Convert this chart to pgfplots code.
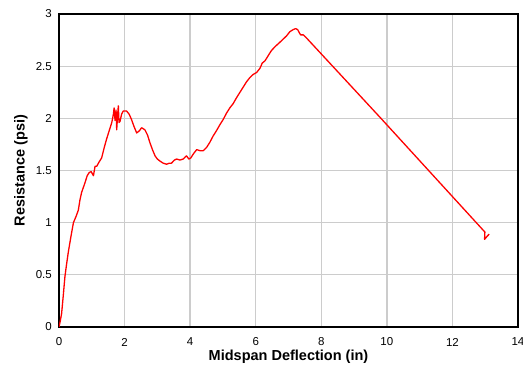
\documentclass[border=0pt]{standalone}
\usepackage{pgfplots}
\pgfplotsset{compat=1.18}
\usepackage{fontspec}
\setmainfont{Liberation Sans}
\definecolor{gridgray}{RGB}{204,204,204}
\begin{document}
\begin{tikzpicture}[x=1pt,y=1pt]
\path[use as bounding box] (-59,-39) rectangle (464,327);
\begin{axis}[
  at={(0,0)}, anchor=south west,
  scale only axis,
  width=459pt, height=313pt,
  xmin=0, xmax=14, ymin=0, ymax=3,
  xtick={0,2,...,14},
  ytick={0,0.5,...,3},
  grid=major,
  major grid style={gridgray, line width=1.3pt},
  major tick length=0pt,
  axis line style={black, line width=1.4pt},
  tick label style={font=\fontsize{11.5}{13}\selectfont},
  /pgf/number format/assume math mode=true,
  yticklabel style={/pgf/number format/fixed, anchor=east, inner sep=0pt, xshift=-7pt},
  xticklabel style={anchor=center, inner sep=0pt, yshift=-15pt},
  xlabel={\bfseries Midspan Deflection (in)},
  ylabel={\bfseries Resistance (psi)},
  label style={font=\fontsize{14.5}{17}\selectfont},
  xlabel style={at={(axis description cs:0.5,-0.0958)}, anchor=center},
  ylabel style={at={(axis description cs:-0.0828,0.5)}, anchor=center},
]
\addplot[red, line width=1.3pt, line join=round] coordinates {
(0,0) (0.04,0.06) (0.08,0.13) (0.13,0.30) (0.18,0.48) (0.23,0.60) (0.28,0.71)
(0.36,0.86) (0.44,1.00) (0.52,1.06) (0.59,1.12) (0.64,1.22) (0.69,1.29)
(0.79,1.38) (0.86,1.45) (0.92,1.48) (0.98,1.49) (1.05,1.45) (1.10,1.54)
(1.15,1.54) (1.22,1.58) (1.30,1.62) (1.38,1.72) (1.45,1.80) (1.53,1.88)
(1.61,1.96) (1.66,2.04) (1.68,2.10) (1.71,1.98) (1.74,2.08) (1.76,1.89)
(1.79,2.04) (1.81,2.12) (1.83,1.96) (1.86,1.97) (1.91,2.04) (1.96,2.07)
(2.06,2.07) (2.14,2.04) (2.21,1.99) (2.29,1.92) (2.37,1.86) (2.45,1.88)
(2.52,1.91) (2.62,1.89) (2.70,1.84) (2.77,1.77) (2.85,1.70) (2.93,1.64)
(3.00,1.61) (3.08,1.59) (3.18,1.57) (3.28,1.56) (3.36,1.57) (3.43,1.57)
(3.52,1.60) (3.59,1.61) (3.69,1.60) (3.79,1.61) (3.85,1.63) (3.89,1.64)
(3.96,1.61) (4.02,1.62) (4.10,1.66) (4.20,1.70) (4.30,1.69) (4.40,1.69)
(4.50,1.72) (4.60,1.77) (4.70,1.83) (4.80,1.88) (4.91,1.94) (5.01,1.99)
(5.11,2.05) (5.21,2.10) (5.31,2.14) (5.42,2.20) (5.52,2.25) (5.62,2.30)
(5.72,2.35) (5.82,2.39) (5.92,2.42) (6.03,2.44) (6.13,2.48) (6.20,2.53)
(6.28,2.55) (6.38,2.60) (6.48,2.65) (6.60,2.69) (6.74,2.73) (6.84,2.76)
(6.94,2.79) (7.04,2.83) (7.14,2.85) (7.22,2.86) (7.28,2.85) (7.33,2.82)
(7.37,2.80) (7.45,2.80) (7.52,2.78) (9.79,2.01) (12.99,0.91) (12.98,0.84)
(13.06,0.87) (13.12,0.89)
};
\end{axis}
\end{tikzpicture}
\end{document}
